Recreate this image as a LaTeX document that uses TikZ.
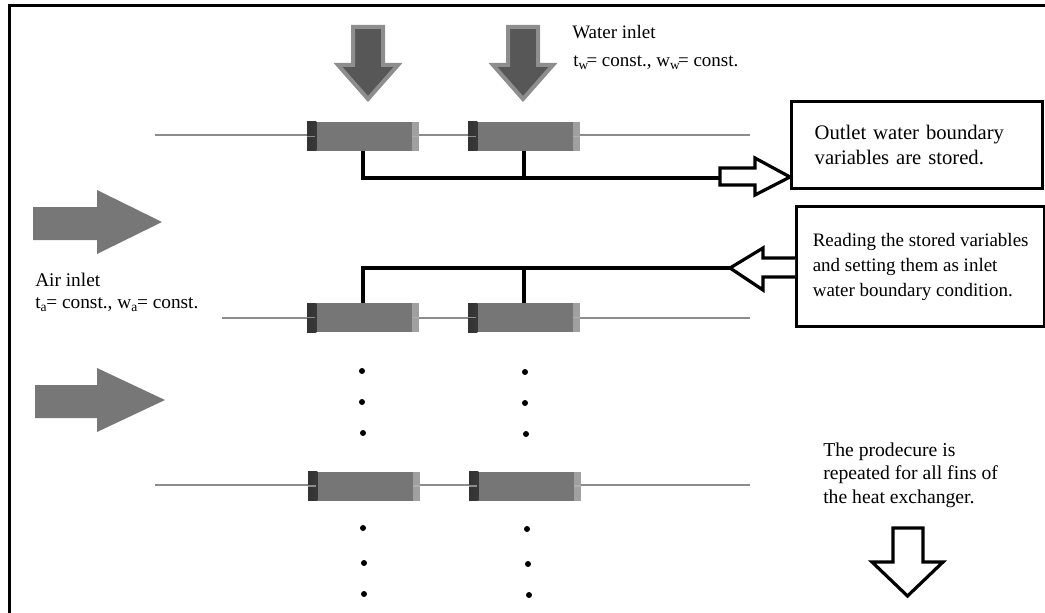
\documentclass[tikz,border=0pt]{standalone}
\usepackage{fontspec}
\setmainfont{Liberation Serif}
\definecolor{finline}{HTML}{8C8C8C}
\definecolor{blockgray}{HTML}{767676}
\definecolor{blocklight}{HTML}{A0A0A0}
\definecolor{darkarrow}{HTML}{575757}
\definecolor{arrowborder}{HTML}{8E8E8E}
\definecolor{airgray}{HTML}{777777}
\begin{document}
\begin{tikzpicture}[x=0.75pt,y=-0.75pt,
  finpipe/.style={draw=finline, line width=1.5pt},
  block/.style={fill=blockgray, minimum width=84pt, minimum height=21.75pt, inner sep=0pt,
    path picture={
      \shade[left color=black!80, right color=blockgray]
        (path picture bounding box.south west) rectangle ([xshift=7pt]path picture bounding box.north west);
      \fill[blocklight]
        ([xshift=-5pt]path picture bounding box.south east) rectangle (path picture bounding box.north east);
      \draw[finline, line width=1pt] (path picture bounding box.west) -- ++(6pt,0pt);
      \draw[finline!70, line width=1pt] (path picture bounding box.east) -- ++(-5pt,0pt);
    }},
  link/.style={draw=black, line width=2.4pt},
  hollow/.style={draw=black, fill=white, line width=2.4pt, line join=miter},
  waterarrow/.style={fill=darkarrow, draw=arrowborder, line width=3pt, line join=miter},
  airarrow/.style={fill=airgray},
  textbox/.style={draw=black, line width=2.5pt, align=left, anchor=north west},
  label/.style={inner sep=0pt, anchor=west},
  dotmark/.style={fill=black}
]
\useasboundingbox (0,0) rectangle (1045,613);
% frame
\draw[line width=2.25pt] (9,613) -- (9,6) -- (1045,6);

% water inlet arrows
\foreach \cx in {368,523}{
  \draw[waterarrow] ({\cx-15},27) -- ({\cx+15},27) -- ({\cx+15},65) -- ({\cx+30},65)
    -- (\cx,99) -- ({\cx-30},65) -- ({\cx-15},65) -- cycle;
}

% air inlet arrows
\fill[airarrow] (33,207) -- (97,207) -- (97,190) -- (162,222) -- (97,254) -- (97,240) -- (33,240) -- cycle;
\fill[airarrow] (35,385) -- (97,385) -- (97,368) -- (165,400) -- (97,432) -- (97,418) -- (35,418) -- cycle;

% fin lines
\coordinate (r1a) at (155,135); \coordinate (r1b) at (750,135);
\coordinate (r2a) at (222,318); \coordinate (r2b) at (750,318);
\coordinate (r3a) at (155,485); \coordinate (r3b) at (750,485);
\draw[finpipe] (r1a) -- (r1b);
\draw[finpipe] (r2a) -- (r2b);
\draw[finpipe] (r3a) -- (r3b);

% blocks
\node[block] (b11) at (363,136.5) {};
\node[block] (b12) at (524,136.5) {};
\node[block] (b21) at (363,317.5) {};
\node[block] (b22) at (524,317.5) {};
\node[block] (b31) at (364,486) {};
\node[block] (b32) at (525,486) {};

% text boxes
\node[textbox, font=\fontsize{15.5}{18.75}\selectfont, text width=153.75pt, inner xsep=17.25pt,
  minimum height=65.25pt] (outbox) at (790,100) {Outlet water boundary\\variables are stored.};
\node[textbox, font=\fontsize{14.25}{18.75}\selectfont, inner xsep=8pt,
  minimum width=186pt, minimum height=90pt] (inbox) at (795,205) {Reading the stored variables\\and setting them as inlet\\water boundary condition.};

% connectors
\coordinate (outtail) at (720,178);
\coordinate (intip) at (730,268);
\draw[link] (b11.south) |- (outtail);
\draw[link] (b12.south) -- (b12.south |- outtail);
\draw[link] (b21.north) |- (intip);
\draw[link] (b22.north) -- (b22.north |- intip);

% hollow arrows
\draw[hollow] (outtail) ++(0,-10) -- (755,168) -- (755,158) -- (outbox.west |- 0,177) -- (755,195) -- (755,185) -- (720,185) -- cycle;
\draw[hollow] (inbox.west |- 0,258) -- (763,258) -- (763,248) -- (intip) -- (763,290) -- (763,277) -- (inbox.west |- 0,277);
\draw[hollow] (893,528) -- (923,528) -- (923,562) -- (943,562) -- (907.5,596) -- (872,562) -- (893,562) -- cycle;

% dots
\foreach \p in {(362,371),(362,402),(363,433),(525,372),(525,403),(526,434),
                (363,528),(364,563),(364,594),(527,529),(528,564),(529,595)}{
  \fill[dotmark] \p circle (2.25pt);
}

% labels
\node[label, font=\fontsize{14.25}{17}\selectfont] (waterlbl) at (572,32) {Water inlet};
\node[label, font=\fontsize{14.25}{17}\selectfont] (watercond) at (573,63)
  {t\textsubscript{w}\kern-.12em= const., w\textsubscript{w}\kern-.12em= const.};
\node[label, font=\fontsize{14.5}{17}\selectfont] (airlbl) at (35,280) {Air inlet};
\node[label, font=\fontsize{14.5}{17}\selectfont] (aircond) at (35,305)
  {t\textsubscript{a}\kern-.05em= const., w\textsubscript{a}\kern-.05em= const.};
\node[label, align=left, font=\fontsize{14.75}{17.5}\selectfont] (proc) at (823,475)
  {The prodecure is\\repeated for all fins of\\the heat exchanger.};
\end{tikzpicture}
\end{document}
